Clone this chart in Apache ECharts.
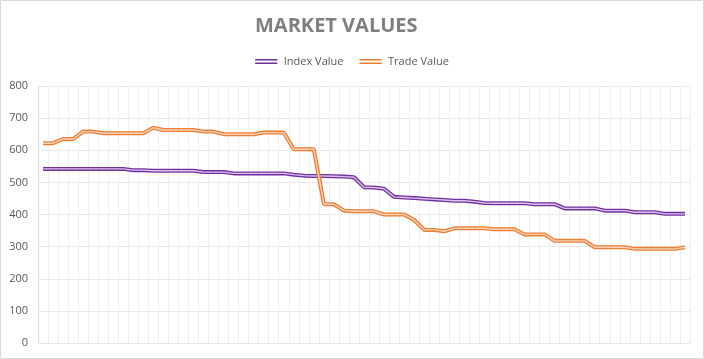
<!DOCTYPE html>
<html>
<head>
<meta charset="utf-8">
<script src="https://cdn.jsdelivr.net/npm/echarts@6/dist/echarts.min.js"></script>
<style>
html,body{margin:0;padding:0;background:#fff;}
#chart{width:704px;height:359px;}
</style>
</head>
<body>
<div id="chart"></div>
<script>
var titleText = 'MARKET VALUES';
var seriesNames = ['Index Value', 'Trade Value'];
var yTicks = [0, 100, 200, 300, 400, 500, 600, 700, 800];
var categories = [];
for (var k = 1; k <= 65; k++) { categories.push(String(k)); }

var indexValues = [
  542, 542, 542, 542, 542, 542, 542, 542, 542, 538,
  538, 536, 536, 536, 536, 536, 532, 532, 532, 528,
  528, 528, 528, 528, 528, 524, 521, 520, 520, 519,
  518, 516, 485, 484, 480, 455, 453, 451, 449, 447,
  445, 443, 443, 440, 436, 435, 435, 435, 435, 432,
  432, 432, 419, 419, 419, 419, 412, 412, 412, 407,
  407, 407, 402, 402, 402
];
var tradeValues = [
  622, 622, 635, 635, 658, 658, 653, 653, 653, 653,
  653, 670, 663, 663, 663, 663, 658, 658, 650, 650,
  650, 650, 655, 655, 655, 603, 603, 603, 432, 432,
  412, 410, 410, 410, 400, 400, 400, 383, 352, 352,
  348, 357, 357, 357, 357, 354, 354, 354, 338, 338,
  338, 318, 318, 318, 318, 298, 298, 298, 298, 293,
  293, 293, 293, 293, 298
];

var colors = ['#7030A0', '#ED7D31'];
var innerColors = ['#D9C2EC', '#F9D3B8'];
var doubleIcon = 'path://M0,0H20V1.4H0Z M0,3.1H20V4.5H0Z';
var fontFam = '"Open Sans", sans-serif';

function mkSeries(name, data, idx) {
  return [
    {
      name: name, type: 'line', data: data, symbol: 'none', silent: true,
      z: 2 + idx * 2,
      lineStyle: { color: colors[idx], width: 4 },
      itemStyle: { color: colors[idx] }
    },
    {
      name: name, type: 'line', data: data, symbol: 'none', silent: true,
      z: 3 + idx * 2,
      lineStyle: { color: innerColors[idx], width: 1.4 },
      itemStyle: { color: colors[idx] }
    }
  ];
}

var chart = echarts.init(document.getElementById('chart'), null, { renderer: 'canvas' });
var option = {
  animation: false,
  backgroundColor: '#fff',
  title: {
    text: titleText,
    left: 250,
    top: 11,
    textStyle: {
      fontFamily: fontFam,
      fontWeight: 'bold',
      fontSize: 20,
      color: '#7F7F7F'
    }
  },
  legend: {
    top: 51,
    left: 'center',
    itemWidth: 25,
    itemHeight: 5,
    itemGap: 16,
    data: [
      { name: seriesNames[0], icon: doubleIcon, itemStyle: { color: colors[0] } },
      { name: seriesNames[1], icon: doubleIcon, itemStyle: { color: colors[1] } }
    ],
    textStyle: {
      fontFamily: fontFam,
      fontSize: 11,
      color: '#595959'
    }
  },
  grid: { left: 38, right: 14, top: 86, bottom: 16, containLabel: false },
  xAxis: {
    type: 'category',
    data: categories,
    boundaryGap: true,
    axisLine: { show: true, lineStyle: { color: '#E6E6E6', width: 1 } },
    axisTick: { show: false },
    axisLabel: { show: false },
    splitLine: { show: true, interval: 0, lineStyle: { color: '#EFEFEF', width: 1 } }
  },
  yAxis: {
    type: 'value',
    min: yTicks[0],
    max: yTicks[yTicks.length - 1],
    interval: 100,
    axisLine: { show: true, lineStyle: { color: '#D9D9D9', width: 1 } },
    axisTick: { show: false },
    axisLabel: {
      margin: 10,
      fontFamily: fontFam,
      fontSize: 11,
      color: '#595959'
    },
    splitLine: { show: true, lineStyle: { color: '#EAEAEA', width: 1 } }
  },
  graphic: [{
    type: 'rect',
    shape: { x: 0.5, y: 0.5, width: 703, height: 358 },
    style: { fill: 'none', stroke: '#D9D9D9', lineWidth: 1 },
    silent: true, z: 100
  }],
  series: [].concat(mkSeries(seriesNames[0], indexValues, 0), mkSeries(seriesNames[1], tradeValues, 1))
};
chart.setOption(option);
</script>
</body>
</html>
